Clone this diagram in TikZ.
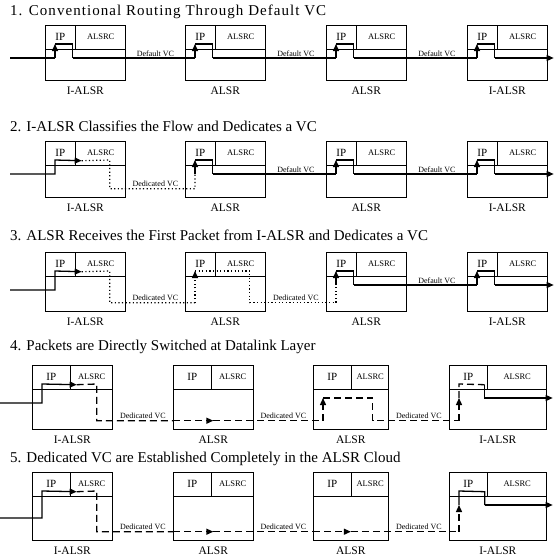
\documentclass[tikz,border=0pt]{standalone}
\usepackage{fontspec}
\setmainfont{Liberation Serif}
\usetikzlibrary{arrows.meta, positioning, calc}

\begin{document}
\begin{tikzpicture}[
  x=1pt, y=-1pt,
  router/.style={draw, line width=0.7pt, inner sep=0pt, anchor=north west},
  ipcell/.style={draw, line width=0.7pt, inner sep=0pt, anchor=north west,
                 minimum height=24pt, font=\fontsize{11}{11}\selectfont},
  alsrc/.style={font=\fontsize{8.5}{9}\selectfont, inner sep=0pt},
  rlbl/.style={font=\fontsize{11.5}{12}\selectfont, inner sep=0pt},
  title/.style={font=\fontsize{15}{16}\selectfont, anchor=west, inner sep=0pt},
  vc/.style={font=\fontsize{8}{8}\selectfont, inner sep=1pt, above},
  pkt/.style={line width=1.3pt},
  setup/.style={line width=1.2pt, dash pattern=on 1.2pt off 2.4pt},
  dvc/.style={line width=1.3pt, dash pattern=on 7pt off 4pt},
  vctip/.style={-{Triangle[length=7pt,width=6pt]}}
]
  \useasboundingbox (0,0) rectangle (554,557);

  % Panel titles
  \node[title] (t1) at (10,12)  {\addfontfeatures{LetterSpace=7}1. Conventional Routing Through Default VC};
  \node[title] (t2) at (10,126) {2. I-ALSR Classifies the Flow and Dedicates a VC};
  \node[title] (t3) at (10,235) {3. ALSR Receives the First Packet from I-ALSR and Dedicates a VC};
  \node[title] (t4) at (10,347) {4. Packets are Directly Switched at Datalink Layer};
  \node[title] (t5) at (10,459) {5. Dedicated VC are Established Completely in the ALSR Cloud};

  % Routers: box with IP / ALSRC row on top, datalink part below
  \foreach \p/\Y/\hh/\iw in {1/25/55/30, 2/141/56/30, 3/252/59/30, 4/365/64/38, 5/472/68/38} {
    \ifnum\p<4
      \def\boxes{a/45/80/I-ALSR, b/185/80/ALSR, c/326/80/ALSR, d/467/80/I-ALSR}
    \else
      \def\boxes{a/32/80/I-ALSR, b/173/80/ALSR, c/313/75/ALSR, d/449/97/I-ALSR}
    \fi
    \foreach \bx/\x/\w/\lab in \boxes {
      \node[router, minimum width=\w pt, minimum height=\hh pt] (r\p\bx) at (\x,\Y) {};
      \node[ipcell, minimum width=\iw pt] (ip\p\bx) at (r\p\bx.north west) {IP};
      \draw[line width=0.7pt] (ip\p\bx.south east) -- (ip\p\bx.south east -| r\p\bx.east);
      \node[alsrc] (al\p\bx) at ($(ip\p\bx.north east)!.5!(r\p\bx.north east)+(0,12)$) {ALSRC};
      \node[rlbl, below=6pt of r\p\bx] (n\p\bx) {\lab};
      % points used by the routes
      \coordinate (lo\p\bx) at ($(r\p\bx.north west)+(10,33)$);
      \coordinate (up\p\bx) at ($(r\p\bx.north west)+(10,19)$);
      \coordinate (dn\p\bx) at ($(ip\p\bx.south east)+(-3,-5)$);
      \coordinate (ac\p\bx) at ($(ip\p\bx.south east)+(6,-5)$);
      \coordinate (dr\p\bx) at ($(r\p\bx.north east)+(-16,19)$);
      \coordinate (vc\p\bx) at ($(r\p\bx.south west)+(10,-9)$);
    }
    \coordinate (out\p) at ($(r\p d.east |- lo\p d)+(6,0)$);
  }

  % 1. default VC, every router goes through IP
  \coordinate (in1) at (10,58);
  \draw[pkt] (in1) -- (lo1a);
  \foreach \bx in {a,b,c,d} {
    \draw[pkt, vctip] (lo1\bx) -- (up1\bx);
    \draw[pkt] (up1\bx) -| (lo1\bx -| dn1\bx);
  }
  \foreach \bx/\nx in {a/b, b/c, c/d}
    \draw[pkt] (lo1\bx -| dn1\bx) -- (lo1\bx -| r1\bx.east)
      -- node[vc] {Default VC} (lo1\nx -| r1\nx.west) -- (lo1\nx);
  \draw[pkt, vctip] (lo1d -| dn1d) -- (out1);

  % 2. I-ALSR hands the flow to ALSRC
  \coordinate (in2) at (10,174);
  \draw[pkt, vctip] (in2) -- (lo2a) -- (up2a) -- (ac2a);
  \draw[setup] (ac2a) -- (dr2a) |- (vc2a -| r2a.east)
    -- node[vc] {Dedicated VC} (vc2b -| r2b.west) -- (vc2b) -- (lo2b);
  \foreach \bx in {b,c,d} {
    \draw[pkt, vctip] (lo2\bx) -- (up2\bx);
    \draw[pkt] (up2\bx) -| (lo2\bx -| dn2\bx);
  }
  \foreach \bx/\nx in {b/c, c/d}
    \draw[pkt] (lo2\bx -| dn2\bx) -- (lo2\bx -| r2\bx.east)
      -- node[vc] {Default VC} (lo2\nx -| r2\nx.west) -- (lo2\nx);
  \draw[pkt, vctip] (lo2d -| dn2d) -- (out2);

  % 3. first ALSR takes the packet and sets up its VC
  \coordinate (in3) at (10,290);
  \draw[pkt, vctip] (in3) -- (in3 -| up3a) -- (up3a) -- (ac3a);
  \draw[setup] (ac3a) -- (dr3a) |- (vc3a -| r3a.east)
    -- node[vc] {Dedicated VC} (vc3b -| r3b.west) -- (vc3b);
  \draw[setup, vctip] (vc3b) -- (up3b);
  \draw[setup] (up3b) -- (dr3b) |- (vc3b -| r3b.east)
    -- node[vc] {Dedicated VC} (vc3c -| r3c.west) -- (vc3c) -- (lo3c);
  \foreach \bx in {c,d} {
    \draw[pkt, vctip] (lo3\bx) -- (up3\bx);
    \draw[pkt] (up3\bx) -| (lo3\bx -| dn3\bx);
  }
  \draw[pkt] (lo3c -| dn3c) -- (lo3c -| r3c.east)
    -- node[vc] {Default VC} (lo3d -| r3d.west) -- (lo3d);
  \draw[pkt, vctip] (lo3d -| dn3d) -- (out3);

  % 4. switching at datalink layer
  \coordinate (in4) at (0,403);
  \draw[pkt, vctip] (in4) -- (in4 -| up4a) -- (up4a) -- (ac4a);
  \draw[dvc] (ac4a) -- (dr4a) |- (vc4a -| r4a.east)
    -- node[vc] {Dedicated VC} (vc4b -| r4b.west);
  \draw[dvc, vctip] (vc4b -| r4b.west) -- (vc4b -| r4b.center);
  \draw[dvc] (vc4b -| r4b.center) -- (vc4b -| r4b.east)
    -- node[vc] {Dedicated VC} (vc4c -| r4c.west) -- (vc4c);
  \draw[dvc, vctip] (vc4c) -- (lo4c);
  \draw[dvc] (lo4c) -| (vc4c -| dr4c) -- (vc4c -| r4c.east)
    -- node[vc] {Dedicated VC} (vc4d -| r4d.west) -- (vc4d);
  \draw[dvc, vctip] (vc4d) -- (lo4d);
  \draw[dvc] (lo4d) -- (up4d) -- (dn4d);
  \draw[pkt, vctip] (dn4d) -- (lo4d -| dn4d) -- (out4);

  % 5. dedicated VC through the whole cloud
  \coordinate (in5) at (0,518);
  \draw[pkt, vctip] (in5) -- (in5 -| up5a) -- (up5a) -- (ac5a);
  \draw[dvc] (ac5a) -- (dr5a) |- (vc5a -| r5a.east)
    -- node[vc] {Dedicated VC} (vc5b -| r5b.west);
  \foreach \bx/\nx in {b/c, c/d} {
    \draw[dvc, vctip] (vc5\bx -| r5\bx.west) -- (vc5\bx -| r5\bx.center);
    \draw[dvc] (vc5\bx -| r5\bx.center) -- (vc5\bx -| r5\bx.east)
      -- node[vc] {Dedicated VC} (vc5\nx -| r5\nx.west);
  }
  \draw[dvc] (vc5d -| r5d.west) -- (vc5d);
  \draw[dvc, vctip] (vc5d) -- (lo5d);
  \draw[pkt] (lo5d) -- (up5d) -- (dn5d) -- (lo5d -| dn5d);
  \draw[pkt, vctip] (lo5d -| dn5d) -- (out5);
\end{tikzpicture}
\end{document}
